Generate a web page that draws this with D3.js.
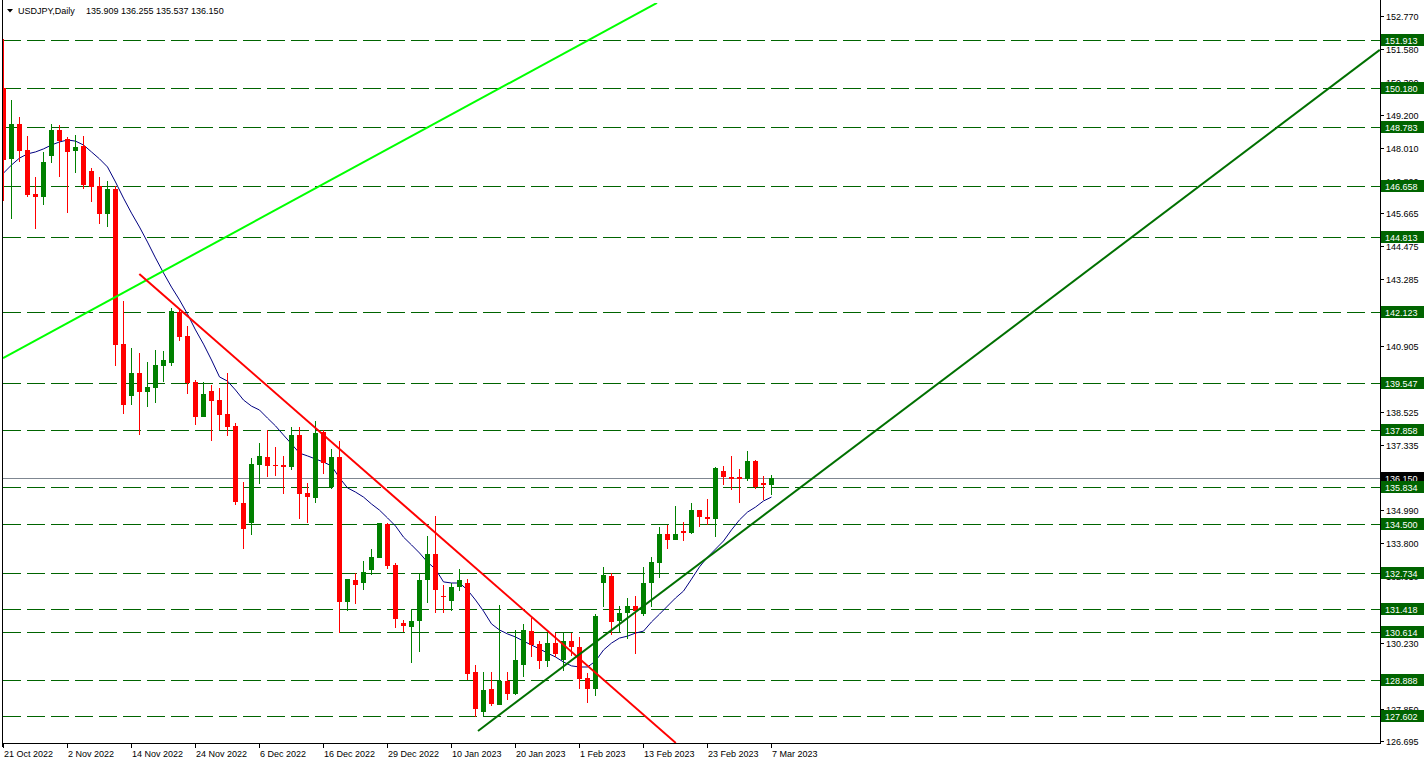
<!DOCTYPE html>
<html><head><meta charset="utf-8">
<script src="https://cdn.jsdelivr.net/npm/d3@7"></script>
<style>
body{margin:0;background:#fff;}
svg{display:block;}
text{font-family:"Liberation Sans",Arial,sans-serif;font-size:9px;}
</style>
</head><body>
<svg id="c" width="1426" height="765"></svg>
<script>
// ---------- data ----------
const symbolTitle = "USDJPY,Daily";
const lastQuote = "135.909 136.255 135.537 136.150";
const dateLabels = ["21 Oct 2022","2 Nov 2022","14 Nov 2022","24 Nov 2022","6 Dec 2022","16 Dec 2022","29 Dec 2022","10 Jan 2023","20 Jan 2023","1 Feb 2023","13 Feb 2023","23 Feb 2023","7 Mar 2023"];
const dateLabelBars = [0,8,16,24,32,40,48,56,64,72,80,88,96];
const opens  = [150.17,147.62,148.88,147.94,146.36,146.24,147.74,148.66,148.32,147.91,148.08,147.20,146.65,145.64,146.55,140.96,139.09,139.91,139.24,139.38,140.17,140.27,142.11,141.25,139.60,138.35,139.26,138.95,138.45,138.02,135.23,134.52,136.60,136.91,136.63,136.61,136.55,137.69,135.59,135.44,137.80,135.83,136.89,131.70,132.48,132.38,132.84,133.28,134.49,133.03,130.94,130.80,131.01,132.48,133.41,131.92,131.71,132.21,132.36,129.17,127.74,128.57,127.99,128.86,128.38,129.42,130.65,130.18,129.58,130.22,129.60,130.27,130.06,128.95,128.57,132.38,132.62,131.01,131.30,131.54,131.26,132.36,133.10,134.12,133.92,134.23,134.18,134.99,134.73,134.68,136.39,136.17,136.17,136.12,136.75,135.96,135.909];
const highs  = [151.94,149.74,149.14,148.44,146.96,147.87,148.88,148.85,148.42,148.48,148.44,147.29,146.98,146.84,146.65,142.50,140.82,140.63,140.32,140.75,140.72,142.26,142.19,141.61,139.67,139.60,139.48,139.38,139.91,138.11,135.99,136.86,137.42,137.87,137.27,136.94,137.99,137.97,135.98,138.18,137.87,137.18,137.46,132.52,132.72,133.15,133.60,134.54,134.52,133.08,131.04,131.42,132.74,134.06,134.78,132.30,132.38,132.86,132.50,129.41,129.18,129.18,131.58,129.18,130.68,130.89,131.10,130.29,130.56,130.56,130.56,130.56,130.42,129.12,131.26,132.93,132.74,131.54,131.82,131.90,132.93,133.32,134.37,134.44,135.14,134.56,135.26,134.99,135.38,136.55,136.58,136.94,136.46,137.11,136.79,136.22,136.255];
const lows   = [146.12,145.45,147.52,146.24,145.11,145.97,147.48,146.98,145.66,147.12,146.55,146.07,145.28,145.18,140.17,138.45,138.78,137.68,138.71,138.85,139.61,140.17,141.08,139.17,138.04,138.35,137.49,137.87,137.66,135.17,133.60,134.08,135.93,136.19,136.22,135.57,136.43,134.66,134.54,135.24,136.29,135.74,130.56,131.37,131.61,132.12,132.65,133.28,132.86,130.75,130.61,129.50,129.90,131.66,131.30,131.30,131.37,132.07,128.88,127.55,127.60,127.95,127.98,128.16,128.34,128.99,129.72,129.27,129.36,129.72,129.22,129.74,128.55,128.07,128.31,131.50,130.49,130.58,130.34,129.82,131.20,131.52,132.55,133.60,133.92,133.89,134.13,134.37,134.46,134.03,135.90,135.72,135.26,136.03,135.76,135.36,135.537];
const closes = [147.58,148.88,147.91,146.33,146.24,147.51,148.66,148.25,147.88,148.05,146.67,146.62,145.64,146.55,140.93,138.78,139.91,139.24,139.41,140.20,140.39,142.14,141.23,139.57,138.35,139.17,138.92,138.42,137.99,135.29,134.32,136.65,136.94,136.58,136.60,136.55,137.69,135.57,135.47,137.77,136.69,136.89,131.70,132.50,132.30,132.78,133.29,134.52,132.99,131.09,130.82,131.01,132.48,133.41,132.12,131.87,132.21,132.48,129.10,127.85,128.52,128.02,128.86,128.38,129.60,130.68,130.14,129.58,130.20,129.82,130.27,130.06,128.93,128.57,131.18,132.66,130.98,131.30,131.54,131.37,132.36,133.12,134.15,133.92,134.15,134.18,134.99,134.73,134.68,136.50,136.17,136.12,136.12,136.75,135.81,135.91,136.150];
const movingAverage = [147.11,147.40,147.65,147.80,147.87,147.98,148.12,148.23,148.30,148.26,148.12,147.87,147.62,147.33,146.79,146.21,145.67,145.17,144.63,144.06,143.52,143.01,142.55,142.04,141.47,140.96,140.39,139.78,139.63,139.31,138.95,138.73,138.59,138.30,138.02,137.69,137.37,137.04,136.94,136.83,136.72,136.58,136.15,135.79,135.64,135.46,135.21,134.99,134.71,134.42,134.02,133.74,133.45,133.12,132.87,132.41,132.37,132.37,132.12,131.76,131.36,130.90,130.68,130.54,130.43,130.28,130.14,130.00,129.85,129.71,129.53,129.39,129.35,129.35,129.56,129.96,130.21,130.39,130.46,130.57,130.64,130.97,131.25,131.54,131.83,132.08,132.51,132.95,133.30,133.59,133.88,134.28,134.64,134.92,135.10,135.32,135.46];
const levelPrices = [151.913,150.180,148.783,146.658,144.813,142.123,139.547,137.858,135.834,134.500,132.734,131.418,130.614,128.888,127.602];
const currentPrice = 136.150;
// axis tick labels (those fully covered by a price tag in the reference are left out)
const priceTicks = [152.770,151.580,150.390,149.200,148.010,146.820,145.665,144.475,143.285,140.905,139.715,138.525,137.335,134.990,133.800,132.610,130.230,129.040,127.850,126.695];
// trendlines: [barIndex, price] pairs
const limeTrend  = [[0,140.46],[81.75,153.23]];
const redTrend   = [[17.04,143.48],[84.1,126.62]];
const greenTrend = [[59.375,127.05],[172.1,151.54]];

// ---------- layout ----------
const L = 3, R = 1380, T = 3, B = 743;
const svg = d3.select("#c");
const x = d3.scaleLinear().domain([0, 96]).range([3, 771]);
const y = d3.scaleLinear().domain([126.617, 153.226]).range([B, T]);

svg.append("rect").attr("width",1426).attr("height",765).attr("fill","#fff");
svg.append("clipPath").attr("id","plot").append("rect")
  .attr("x",L).attr("y",T).attr("width",R-L).attr("height",B-T);
const g = svg.append("g").attr("clip-path","url(#plot)");

// horizontal levels
g.selectAll("line.lvl").data(levelPrices).join("line").attr("class","lvl")
  .attr("x1",L).attr("x2",R)
  .attr("y1",d=>Math.round(y(d))+0.5).attr("y2",d=>Math.round(y(d))+0.5)
  .attr("stroke","#006400").attr("stroke-width",1).attr("stroke-dasharray","18,6");

// bid line
g.append("line").attr("x1",L).attr("x2",R)
  .attr("y1",Math.round(y(currentPrice))+0.5).attr("y2",Math.round(y(currentPrice))+0.5)
  .attr("stroke","#7f8791").attr("stroke-width",1);

// moving average
g.append("path").datum(movingAverage)
  .attr("d", d3.line().x((d,i)=>x(i)+0.5).y(d=>y(d)))
  .attr("fill","none").attr("stroke","#000080").attr("stroke-width",1);

// candles
const bars = d3.range(opens.length);
const cg = g.append("g");
bars.forEach(i=>{
  const up = closes[i] >= opens[i];
  const col = up ? "#008000" : "#ff0000";
  const cx = Math.round(x(i));
  cg.append("rect").attr("x",cx).attr("width",1)
    .attr("y",Math.round(y(highs[i]))).attr("height",Math.max(1,Math.round(y(lows[i]))-Math.round(y(highs[i]))))
    .attr("fill",col);
  const yt = Math.round(y(Math.max(opens[i],closes[i])));
  const yb = Math.round(y(Math.min(opens[i],closes[i])));
  cg.append("rect").attr("x",cx-2).attr("width",5)
    .attr("y",yt).attr("height",Math.max(1,yb-yt)).attr("fill",col);
});

// trendlines
const tl = d3.line().x(d=>x(d[0])).y(d=>y(d[1]));
g.append("path").datum(limeTrend).attr("d",tl).attr("stroke","#00ff00").attr("stroke-width",2).attr("fill","none");
g.append("path").datum(redTrend).attr("d",tl).attr("stroke","#ff0000").attr("stroke-width",2).attr("fill","none");
g.append("path").datum(greenTrend).attr("d",tl).attr("stroke","#007000").attr("stroke-width",2).attr("fill","none");

// frame
svg.append("line").attr("x1",L-0.5).attr("x2",L-0.5).attr("y1",0).attr("y2",B+4).attr("stroke","#000");
svg.append("line").attr("x1",L-1).attr("x2",R+1).attr("y1",B+0.5).attr("y2",B+0.5).attr("stroke","#000");
svg.append("line").attr("x1",R+0.5).attr("x2",R+0.5).attr("y1",0).attr("y2",B+1).attr("stroke","#000");

// price axis ticks
const pa = svg.append("g");
priceTicks.forEach(p=>{
  const yy = Math.round(y(p));
  pa.append("line").attr("x1",R).attr("x2",R+4).attr("y1",yy+0.5).attr("y2",yy+0.5).attr("stroke","#000");
  pa.append("text").attr("x",R+6).attr("y",yy+3.5).attr("fill","#000").text(p.toFixed(3));
});

// price label tags
function tag(p, fill){
  const yy = Math.round(y(p));
  pa.append("rect").attr("x",R+1).attr("y",yy-6).attr("width",43).attr("height",12).attr("fill",fill);
  pa.append("text").attr("x",R+5).attr("y",yy+3.5).attr("fill","#fff").text(p.toFixed(3));
}
tag(currentPrice,"#000");
levelPrices.forEach(p=>tag(p,"#006400"));

// time axis
dateLabelBars.forEach((b,k)=>{
  const xx = Math.round(x(b));
  svg.append("line").attr("x1",xx+0.5).attr("x2",xx+0.5).attr("y1",B).attr("y2",B+5).attr("stroke","#000");
  svg.append("text").attr("x",xx+1).attr("y",757).attr("fill","#000").text(dateLabels[k]);
});

// title
svg.append("path").attr("d","M7,9 L13,9 L10,12.5 Z").attr("fill","#000");
svg.append("text").attr("x",18).attr("y",14).attr("fill","#000").text(symbolTitle);
svg.append("text").attr("x",86).attr("y",14).attr("fill","#000").text(lastQuote);
</script>
</body></html>
